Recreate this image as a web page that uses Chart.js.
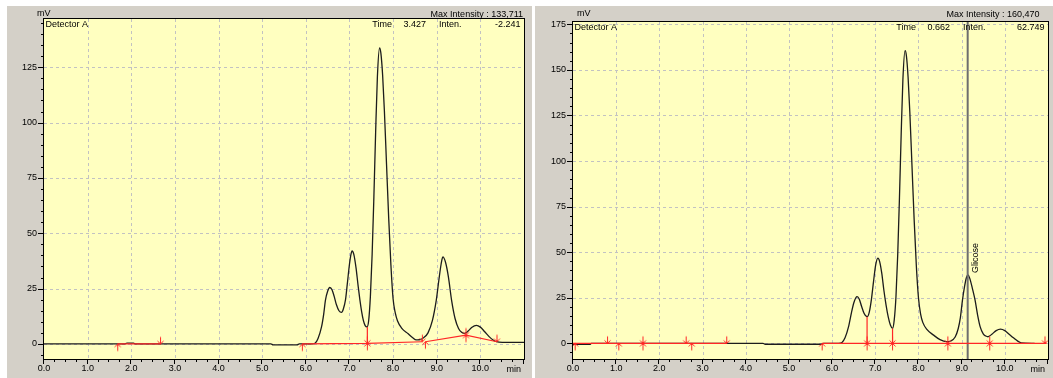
<!DOCTYPE html>
<html><head><meta charset="utf-8">
<script src="https://cdn.jsdelivr.net/npm/chart.js@4.4.1/dist/chart.umd.min.js"></script>
<style>
html,body{margin:0;padding:0;background:#fff;width:1053px;height:378px;overflow:hidden;}
.panel{position:absolute;top:6px;height:372px;background:#D4D0C8;}
#p1{left:7px;width:525px;}
#p2{left:535px;width:518px;}
canvas{display:block;}
</style></head><body>
<div class="panel" id="p1"><canvas id="c1" width="525" height="372"></canvas></div>
<div class="panel" id="p2"><canvas id="c2" width="518" height="372"></canvas></div>
<script>
// ---------- DATA ----------
const xTickLabels = [0,1,2,3,4,5,6,7,8,9,10];
const leftYTickLabels = [0,25,50,75,100,125];
const rightYTickLabels = [0,25,50,75,100,125,150,175];

const leftTimes = [0,1.85,1.9,2.05,2.1,5.2,5.25,5.8,5.85,6.15,6.21,6.28,6.36,6.41,6.45,6.5,6.55,6.6,6.65,6.7,6.76,6.82,6.86,6.91,6.95,7.0,7.03,7.06,7.1,7.15,7.2,7.24,7.28,7.32,7.36,7.4,7.44,7.48,7.52,7.56,7.6,7.64,7.69,7.72,7.76,7.8,7.85,7.9,7.95,8.0,8.05,8.1,8.2,8.34,8.45,8.53,8.6,8.7,8.8,8.9,8.99,9.05,9.1,9.14,9.2,9.27,9.34,9.42,9.5,9.57,9.64,9.72,9.8,9.91,10.0,10.1,10.2,10.3,10.37,10.5,11.0];
const leftSignal = [0,0,0.4,0.4,0,0,-0.4,-0.4,0,0,0.3,2.5,7.7,13.5,19.8,23.8,25.5,24.5,21.5,17.8,15,14.3,15.8,20,27,36,40,42,40.5,34.5,26,19.8,14.5,10.5,8.3,7.7,10.5,21.6,40.5,66.5,95.6,120.6,133.7,131.4,121.5,105.6,81,56.5,35.7,20.4,14,10.5,7,4.7,2.8,1.8,1.9,2.8,5,10.5,19.8,29,36,39.3,37,30,19.8,11.5,7,5.3,4.8,5.8,7.4,8.4,7.6,5.5,3.3,1.7,1.0,0.7,0.7];

const rightTimes = [0,0.4,0.42,4.4,4.45,5.75,5.8,6.15,6.23,6.3,6.38,6.45,6.5,6.55,6.58,6.63,6.68,6.74,6.81,6.86,6.91,6.96,7.01,7.06,7.1,7.15,7.2,7.25,7.3,7.35,7.4,7.44,7.48,7.52,7.56,7.6,7.64,7.69,7.72,7.76,7.8,7.85,7.9,7.95,8.0,8.05,8.1,8.2,8.35,8.5,8.65,8.75,8.85,8.92,8.97,9.02,9.07,9.11,9.15,9.19,9.25,9.31,9.37,9.43,9.5,9.56,9.61,9.7,9.8,9.9,10.0,10.1,10.2,10.3,10.38,10.69];
const rightSignal = [-0.5,-0.5,0,0,-0.5,-0.5,0,0,0.5,3,9,17,22,25,25.6,24.2,20.5,16.5,14.6,17,24,34,43,46.7,45,38.5,29,21,14.5,10,8.2,13,26,48.7,79.8,114.8,144.9,160.6,157.9,146,126.9,97.5,68,43,25,16,11.5,7.5,4.5,2,0.9,1.3,3.5,8,14,23.8,31.5,36,37.5,35.5,30,23.8,15.5,9,5.2,4,3.6,5,7,7.8,7,5,3,1.2,0.3,0];

// integration baselines (null = break)
const leftBaseTimes = [1.69,2.67,2.67,5.92,7.41,8.67,8.67,8.74,9.67,10.38,10.38,7.41,7.41];
const leftBaseValues = [0,0,null,0,0.3,1.0,null,1.0,4.0,1.0,null,0.3,7.7];
const rightBaseTimes = [0,3.56,3.56,5.77,10.97,10.97,6.81,6.81,6.81,7.40,7.40];
const rightBaseValues = [0,0,null,0,0,null,0,14.6,null,0,8.2];

// peak start/end markers
const leftMarkTimes = [1.69,2.67,5.92,7.41,8.67,8.74,9.67,10.38];
const leftMarkValues = [0,0,0,0.3,1.0,1.0,4.0,1.0];
const leftMarkKinds = ['up','down','up','both','down','up','both','down'];
const rightMarkTimes = [0.05,0.80,1.06,1.62,2.62,2.75,3.56,5.77,6.81,7.40,8.68,9.65,10.93];
const rightMarkValues = [0,0,0,0,0,0,0,0,0,0,0,0,0];
const rightMarkKinds = ['up','down','up','both','down','up','down','up','both','both','both','both','down'];

// cursor + peak label (right)
const rightCursorTime = 9.14;
const glicoseTime = 9.14;
const glicoseValue = 37.5;
const glicoseText = 'Glicose';

const leftTexts = ['Detector A','Max Intensity : 133,711','Time','3.427','Inten.','-2.241'];
const rightTexts = ['Detector A','Max Intensity : 160,470','Time','0.662','Inten.','62.749'];

// ---------- RENDER ----------
const FONT = "'Liberation Sans', Arial, sans-serif";
const RED = '#ff2626';

function arrowCanvas(kind){
  const c = document.createElement('canvas'); c.width = 9; c.height = 19;
  const g = c.getContext('2d'); g.strokeStyle = RED; g.lineWidth = 1;
  const cx = 4.5, cy = 9.5;
  if (kind === 'up' || kind === 'both'){
    g.beginPath(); g.moveTo(cx, cy); g.lineTo(cx, cy+7);
    g.moveTo(cx-3, cy+3); g.lineTo(cx, cy); g.lineTo(cx+3, cy+3); g.stroke();
  }
  if (kind === 'down' || kind === 'both'){
    g.beginPath(); g.moveTo(cx, cy); g.lineTo(cx, cy-7);
    g.moveTo(cx-3, cy-3); g.lineTo(cx, cy); g.lineTo(cx+3, cy-3); g.stroke();
  }
  return c;
}
const ARROWS = {up: arrowCanvas('up'), down: arrowCanvas('down'), both: arrowCanvas('both')};

const pts = (t, v) => t.map((x, i) => ({x: x, y: v[i]}));

function decor(cfg){
  return {
    id: 'decor' + cfg.id,
    beforeDraw(chart){
      const ctx = chart.ctx, a = chart.chartArea, xs = chart.scales.x, ys = chart.scales.y;
      ctx.save();
      ctx.fillStyle = '#FFFFC0';
      ctx.fillRect(a.left, a.top, a.right - a.left, a.bottom - a.top);
      ctx.strokeStyle = '#c2c2c2'; ctx.lineWidth = 1; ctx.setLineDash([3,3]);
      xTickLabels.forEach(v => {
        if (v <= 0) return;
        const px = Math.round(xs.getPixelForValue(v)) + 0.5;
        ctx.beginPath(); ctx.moveTo(px, a.top); ctx.lineTo(px, a.bottom); ctx.stroke();
      });
      cfg.yLabels.forEach(v => {
        const py = Math.round(ys.getPixelForValue(v)) + 0.5;
        if (py <= a.top + 1) return;
        ctx.beginPath(); ctx.moveTo(a.left, py); ctx.lineTo(a.right, py); ctx.stroke();
      });
      ctx.restore();
    },
    afterDraw(chart){
      const ctx = chart.ctx, a = chart.chartArea, xs = chart.scales.x, ys = chart.scales.y;
      ctx.save();
      // frame
      ctx.strokeStyle = '#000'; ctx.lineWidth = 1;
      ctx.strokeRect(Math.round(a.left) - 0.5, Math.round(a.top) - 0.5, Math.round(a.right - a.left) + 1, Math.round(a.bottom - a.top) + 1);
      // y tick marks
      ys.ticks.forEach(t => {
        const v = t.value;
        if (Math.abs(v % 5) > 1e-6) return;
        const py = Math.round(ys.getPixelForValue(v)) + 0.5;
        const len = cfg.yLabels.includes(v) ? 6 : 3;
        ctx.beginPath(); ctx.moveTo(a.left - len, py); ctx.lineTo(a.left, py); ctx.stroke();
      });
      // x tick marks
      xs.ticks.forEach(t => {
        const v = t.value;
        const px = Math.round(xs.getPixelForValue(v)) - 0.5;
        const len = Number.isInteger(v) ? 5 : 3;
        ctx.beginPath(); ctx.moveTo(px, a.bottom); ctx.lineTo(px, a.bottom + len); ctx.stroke();
      });
      // texts
      const T = cfg.texts;
      ctx.fillStyle = '#000'; ctx.font = '9px ' + FONT; ctx.textBaseline = 'middle';
      ctx.textAlign = 'right'; ctx.fillText('min', a.right - 3, a.bottom + 11);
      ctx.textAlign = 'left'; ctx.fillText('mV', cfg.mvX, 8);
      ctx.textAlign = 'right'; ctx.fillText(T[1], a.right - cfg.maxOff, 8.5);
      ctx.textAlign = 'left'; ctx.fillText(T[0], a.left + 1.5, a.top + 5.5);
      ctx.textAlign = 'right'; ctx.fillText(T[2], a.right - 132, a.top + 5.5);
      ctx.fillText(T[3], a.right - 98, a.top + 5.5);
      ctx.textAlign = 'left'; ctx.fillText(T[4], a.right - 85, a.top + 5.5);
      ctx.textAlign = 'right'; ctx.fillText(T[5], a.right - 3.5, a.top + 5.5);
      if (cfg.label){
        const px = xs.getPixelForValue(cfg.label.t), py = ys.getPixelForValue(cfg.label.v);
        ctx.translate(px + 3.5, py - 2); ctx.rotate(-Math.PI/2);
        ctx.textAlign = 'left'; ctx.textBaseline = 'top';
        ctx.fillText(cfg.label.text, 0, 0);
      }
      ctx.restore();
    }
  };
}

function makeChart(el, cfg){
  const datasets = [
    {data: pts(cfg.times, cfg.signal), borderColor: '#1c1c1c', borderWidth: 1.3, pointRadius: 0, cubicInterpolationMode: 'monotone', order: 3},
    {data: pts(cfg.baseT, cfg.baseV), borderColor: RED, borderWidth: 1.2, pointRadius: 0, spanGaps: false, tension: 0, order: 1},
    {data: pts(cfg.markT, cfg.markV), showLine: false, pointRadius: 4, clip: false,
     pointStyle: c => ARROWS[cfg.markK[c.dataIndex]], order: 0}
  ];
  if (cfg.cursor !== undefined){
    datasets.push({data: [{x: cfg.cursor, y: cfg.yMin}, {x: cfg.cursor, y: cfg.yMax}], borderColor: '#6e6e6e', borderWidth: 2, pointRadius: 0, order: 2});
  }
  return new Chart(el, {
    type: 'line',
    data: {datasets: datasets},
    options: {
      responsive: false, animation: false, events: [],
      layout: {padding: {left: 0, right: cfg.padRight, top: cfg.padTop, bottom: 0}},
      plugins: {legend: {display: false}, tooltip: {enabled: false}},
      scales: {
        x: {type: 'linear', min: 0, max: 11,
            afterBuildTicks: s => { const t = []; for (let i = 0; i <= 44; i++) t.push({value: i * 0.25}); s.ticks = t; },
            afterFit: s => { s.height = 19; s.paddingLeft = 0; s.paddingRight = 0; },
            grid: {display: false, drawTicks: false}, border: {display: false},
            ticks: {autoSkip: false, maxRotation: 0, minRotation: 0, padding: 4, color: '#000',
                    font: {family: FONT, size: 9},
                    callback: v => (Number.isInteger(v) && xTickLabels.includes(v)) ? v.toFixed(1) : ''}},
        y: {type: 'linear', min: cfg.yMin, max: cfg.yMax,
            afterBuildTicks: s => { const t = []; for (let v = -5; v <= cfg.yMax; v += 5) t.push({value: v}); s.ticks = t; },
            afterFit: s => { s.width = cfg.yWidth; s.paddingTop = 0; s.paddingBottom = 0; },
            grid: {display: false, drawTicks: false}, border: {display: false},
            ticks: {autoSkip: false, padding: 7, color: '#000', font: {family: FONT, size: 9},
                    callback: v => cfg.yLabels.includes(v) ? String(v) : ''}}
      }
    },
    plugins: [decor(cfg)]
  });
}

makeChart(document.getElementById('c1'), {
  id: 1, times: leftTimes, signal: leftSignal, baseT: leftBaseTimes, baseV: leftBaseValues,
  markT: leftMarkTimes, markV: leftMarkValues, markK: leftMarkKinds,
  yMin: -6.8, yMax: 146.8, yLabels: leftYTickLabels, yWidth: 37, padRight: 8, padTop: 13,
  texts: leftTexts, mvX: 30, maxOff: 1
});
makeChart(document.getElementById('c2'), {
  id: 2, times: rightTimes, signal: rightSignal, baseT: rightBaseTimes, baseV: rightBaseValues,
  markT: rightMarkTimes, markV: rightMarkValues, markK: rightMarkKinds,
  yMin: -8.6, yMax: 176.3, yLabels: rightYTickLabels, yWidth: 38, padRight: 3.5, padTop: 16,
  texts: rightTexts, mvX: 42, maxOff: 8.5, cursor: rightCursorTime,
  label: {t: glicoseTime, v: glicoseValue, text: glicoseText}
});
</script>
</body></html>
